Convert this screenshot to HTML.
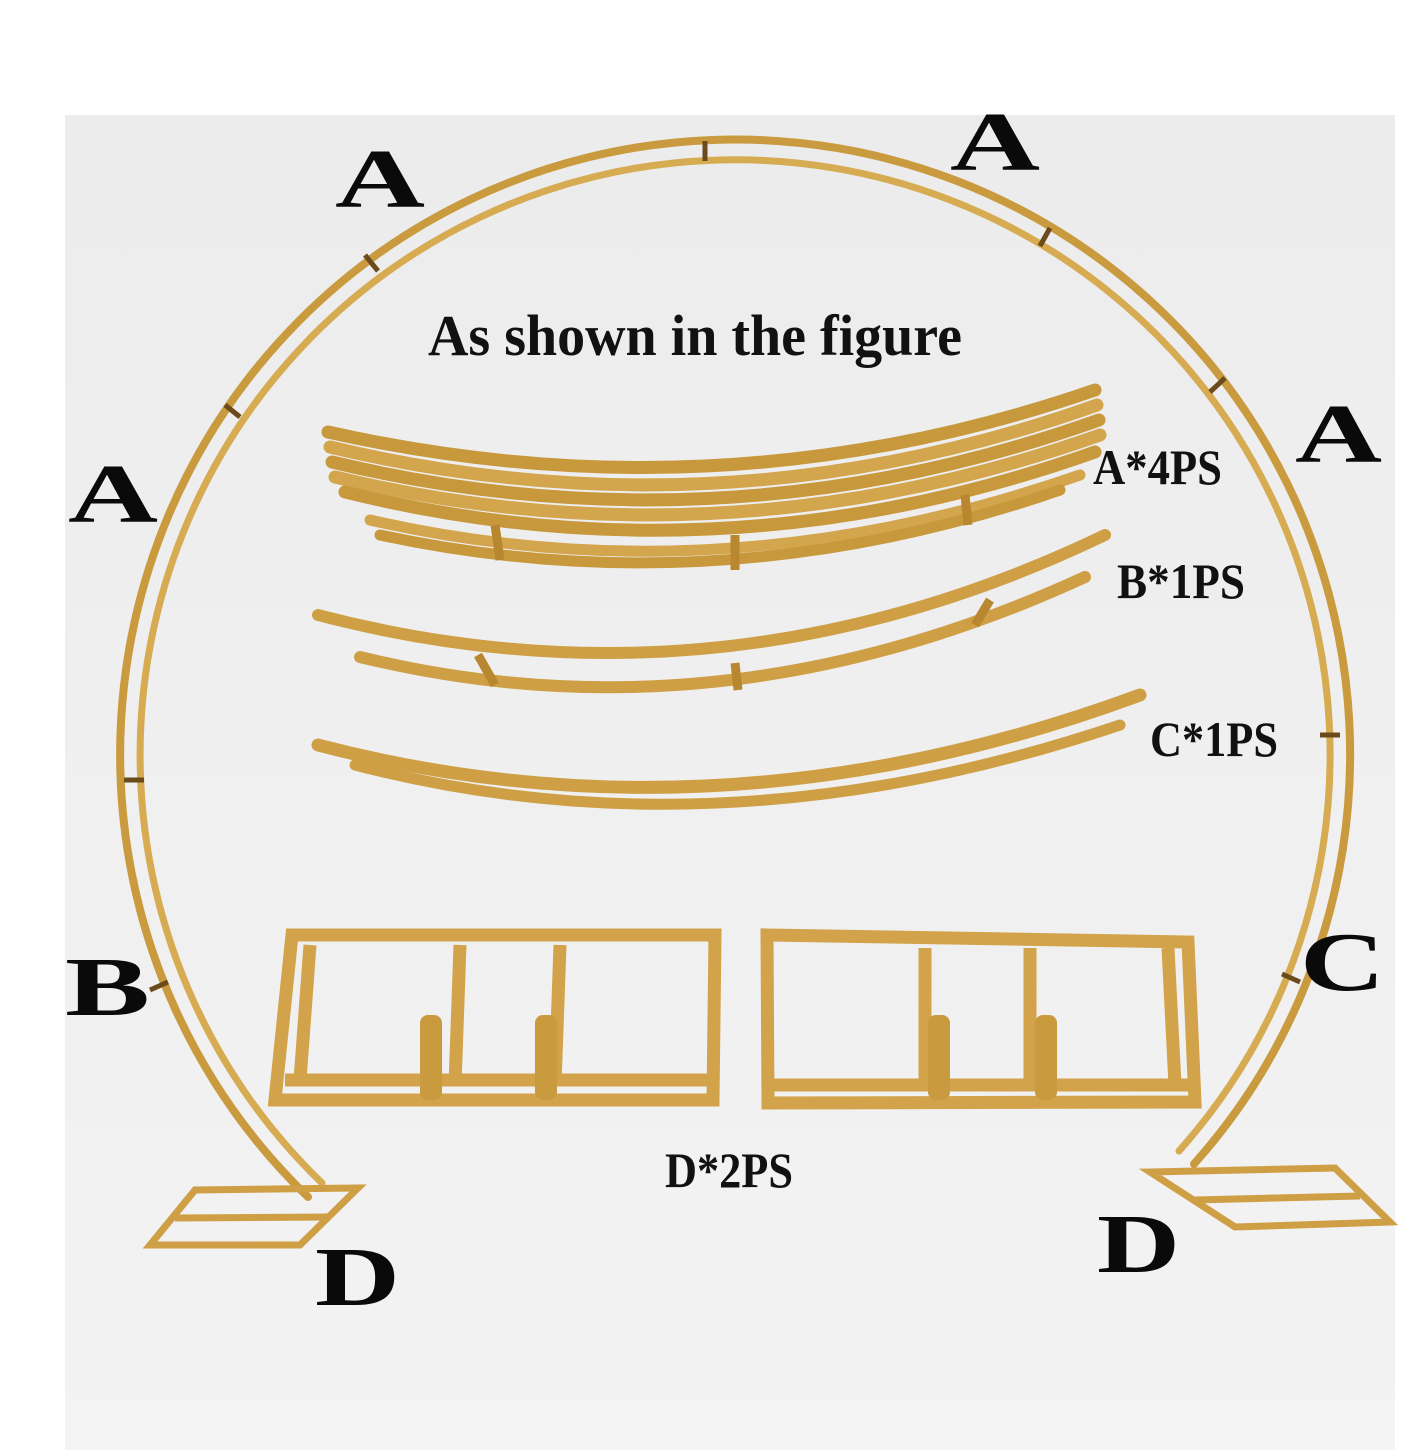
<!DOCTYPE html>
<html><head><meta charset="utf-8"><style>
html,body{margin:0;padding:0;background:#fff;}
svg{display:block;}
.big{font-family:"Liberation Serif",serif;font-weight:bold;fill:#0a0a0a;}
.lab{font-family:"Liberation Serif",serif;font-weight:bold;fill:#111;}
</style></head><body>
<svg width="1425" height="1450" viewBox="0 0 1425 1450" xmlns="http://www.w3.org/2000/svg">
<defs>
<linearGradient id="bg" x1="0" y1="0" x2="0" y2="1">
<stop offset="0" stop-color="#ececec"/><stop offset="1" stop-color="#f3f3f3"/>
</linearGradient>
</defs>
<rect x="65" y="115" width="1330" height="1335" fill="url(#bg)"/>
<g fill="none" stroke-linecap="round">
<path d="M308,1197 A615,615 0 1 1 1194,1164" stroke="#c99a3e" stroke-width="8"/>
<path d="M322,1183 A595,595 0 1 1 1179,1151" stroke="#d6ab52" stroke-width="7"/>
</g>
<g stroke="#6b4a1c" stroke-width="5">
<line x1="705" y1="141" x2="705" y2="161"/>
<line x1="1050" y1="228" x2="1040" y2="246"/>
<line x1="1225" y1="378" x2="1210" y2="392"/>
<line x1="1340" y1="735" x2="1320" y2="735"/>
<line x1="1300" y1="982" x2="1282" y2="974"/>
<line x1="365" y1="255" x2="378" y2="271"/>
<line x1="225" y1="405" x2="240" y2="417"/>
<line x1="124" y1="780" x2="144" y2="780"/>
<line x1="150" y1="990" x2="168" y2="982"/>
</g>
<g fill="none" stroke="#cf9f45" stroke-width="7">
<polygon points="195,1190 358,1188 300,1245 150,1245"/>
<line x1="175" y1="1218" x2="330" y2="1217"/>
<polygon points="1150,1172 1335,1168 1390,1222 1235,1227"/>
<line x1="1195" y1="1200" x2="1360" y2="1196"/>
</g>
<g fill="none" stroke-linecap="round">
<path d="M328,432 Q720,520 1095,390" stroke="#c8983c" stroke-width="13"/>
<path d="M330,447 Q720,540 1097,405" stroke="#d3a54c" stroke-width="13"/>
<path d="M332,462 Q720,555 1099,420" stroke="#c8983c" stroke-width="13"/>
<path d="M335,477 Q720,570 1100,435" stroke="#d3a54c" stroke-width="13"/>
<path d="M345,492 Q720,585 1095,452" stroke="#c8983c" stroke-width="13"/>
<path d="M370,520 Q720,600 1080,475" stroke="#d3a54c" stroke-width="11"/>
<path d="M380,535 Q720,608 1060,490" stroke="#c8983c" stroke-width="11"/>
</g>
<g stroke="#b8872f" stroke-width="9"><line x1="495" y1="525" x2="500" y2="560"/><line x1="735" y1="535" x2="735" y2="570"/><line x1="965" y1="495" x2="968" y2="525"/></g>
<g fill="none" stroke-linecap="round">
<path d="M318,615 Q720,720 1105,535" stroke="#cf9f45" stroke-width="12"/>
<path d="M360,657 Q720,745 1085,577" stroke="#cf9f45" stroke-width="12"/>
</g>
<g stroke="#b8872f" stroke-width="9"><line x1="478" y1="655" x2="495" y2="685"/><line x1="735" y1="663" x2="738" y2="690"/><line x1="990" y1="600" x2="975" y2="625"/></g>
<g fill="none" stroke-linecap="round">
<path d="M318,745 Q720,850 1140,695" stroke="#cf9f45" stroke-width="13"/>
<path d="M355,765 Q720,860 1120,725" stroke="#cf9f45" stroke-width="11"/>
</g>
<g fill="none" stroke="#d2a34a" stroke-width="13">
<polygon points="292,935 715,935 713,1100 275,1100"/>
<line x1="285" y1="1080" x2="712" y2="1080"/>
<line x1="460" y1="945" x2="455" y2="1085"/>
<line x1="560" y1="945" x2="555" y2="1085"/>
<line x1="310" y1="945" x2="300" y2="1080"/>
<polygon points="767,935 1188,942 1195,1102 768,1103"/>
<line x1="770" y1="1085" x2="1190" y2="1085"/>
<line x1="925" y1="948" x2="925" y2="1085"/>
<line x1="1030" y1="948" x2="1030" y2="1085"/>
<line x1="1168" y1="948" x2="1175" y2="1085"/>
</g>
<g fill="#c99a3e"><rect x="420" y="1015" width="22" height="85" rx="8"/><rect x="535" y="1015" width="22" height="85" rx="8"/><rect x="928" y="1015" width="22" height="85" rx="8"/><rect x="1035" y="1015" width="22" height="85" rx="8"/></g>
<text class="lab" x="428" y="355" font-size="58" textLength="534" lengthAdjust="spacingAndGlyphs">As shown in the figure</text>
<text class="lab" x="1093" y="484" font-size="50" textLength="129" lengthAdjust="spacingAndGlyphs">A*4PS</text>
<text class="lab" x="1117" y="598" font-size="50" textLength="128" lengthAdjust="spacingAndGlyphs">B*1PS</text>
<text class="lab" x="1150" y="756" font-size="50" textLength="128" lengthAdjust="spacingAndGlyphs">C*1PS</text>
<text class="lab" x="665" y="1187" font-size="50" textLength="128" lengthAdjust="spacingAndGlyphs">D*2PS</text>
<g class="big" font-size="84">
<text x="335" y="207" textLength="90" lengthAdjust="spacingAndGlyphs">A</text>
<text x="950" y="170" textLength="90" lengthAdjust="spacingAndGlyphs">A</text>
<text x="1295" y="462" textLength="87" lengthAdjust="spacingAndGlyphs">A</text>
<text x="68" y="522" textLength="90" lengthAdjust="spacingAndGlyphs">A</text>
<text x="65" y="1015" textLength="85" lengthAdjust="spacingAndGlyphs">B</text>
<text x="1300" y="990" textLength="85" lengthAdjust="spacingAndGlyphs">C</text>
<text x="315" y="1305" textLength="85" lengthAdjust="spacingAndGlyphs">D</text>
<text x="1097" y="1272" textLength="83" lengthAdjust="spacingAndGlyphs">D</text>
</g>
</svg>
</body></html>
